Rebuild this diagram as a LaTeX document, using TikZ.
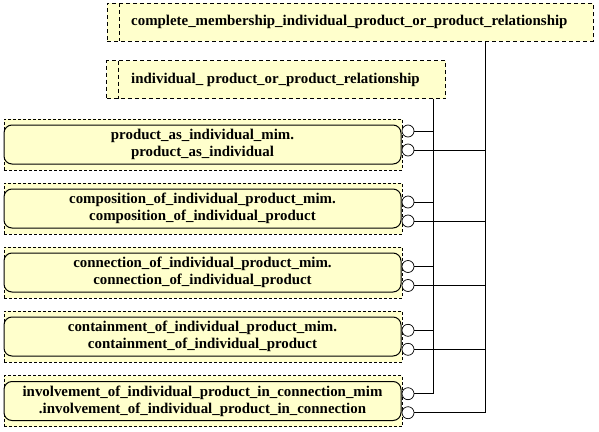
\documentclass[tikz,border=0pt]{standalone}
\usepackage{fontspec}
\setmainfont{Liberation Serif}[BoldFont={Liberation Serif Bold}]
\definecolor{entfill}{HTML}{FFFFCC}
\tikzset{
  reffont/.style={font=\bfseries\fontsize{14.9}{17.3}\selectfont},
  refbox/.style={draw, dash pattern=on 4pt off 3pt, line width=1pt, fill=entfill, minimum width=#1, minimum height=38, inner sep=0, outer sep=0},
  refline/.style={dash pattern=on 4pt off 3pt, line width=1pt},
  grpbox/.style={draw, dash pattern=on 3pt off 2pt, line width=0.7pt, fill=entfill, minimum width=398, minimum height=51, inner sep=0, outer sep=0},
  entbox/.style={draw, rounded corners=8, line width=1pt, fill=entfill, minimum width=397, minimum height=39, align=center, inner sep=0, outer sep=0, reffont},
  port/.style={draw, circle, line width=0.7pt, fill=white, minimum size=12, inner sep=0, outer sep=0},
  link/.style={line width=0.9pt}
}
\begin{document}
\begin{tikzpicture}[x=1pt, y=-1pt]
\useasboundingbox (0,0) rectangle (599,431);

\node [refbox=486] (cmp) at (350,22.3) {};
\draw [refline] ([xshift=12]cmp.north west) -- ([xshift=12]cmp.south west);
\node [reffont, anchor=west, inner sep=0] (cmptext) at (131,22.3) {complete\_membership\_individual\_product\_or\_product\_relationship};

\node [refbox=339] (ipr) at (276.4,79.7) {};
\draw [refline] ([xshift=12]ipr.north west) -- ([xshift=12]ipr.south west);
\node [reffont, anchor=west, inner sep=0] (iprtext) at (131,79.7) {individual\_ product\_or\_product\_relationship};

\node [grpbox] (g1) at (203,144.5) {};
\node [entbox] (e1) at (202.5,144.5) {product\_as\_individual\_mim.\\product\_as\_individual};
\node [port] (p1a) at (408,131) {};
\node [port] (p1b) at (408,150) {};

\node [grpbox] (g2) at (203,208.5) {};
\node [entbox] (e2) at (202.5,208.5) {composition\_of\_individual\_product\_mim.\\composition\_of\_individual\_product};
\node [port] (p2a) at (408,202) {};
\node [port] (p2b) at (408,221) {};

\node [grpbox] (g3) at (203,272.5) {};
\node [entbox] (e3) at (202.5,272.5) {connection\_of\_individual\_product\_mim.\\connection\_of\_individual\_product};
\node [port] (p3a) at (408,266.5) {};
\node [port] (p3b) at (408,285.5) {};

\node [grpbox] (g4) at (203,336.5) {};
\node [entbox] (e4) at (202.5,336.5) {containment\_of\_individual\_product\_mim.\\containment\_of\_individual\_product};
\node [port] (p4a) at (408,330.3) {};
\node [port] (p4b) at (408,349.3) {};

\node [grpbox] (g5) at (203,401) {};
\node [entbox] (e5) at (202.5,401) {involvement\_of\_individual\_product\_in\_connection\_mim\\.involvement\_of\_individual\_product\_in\_connection};
\node [port] (p5a) at (408,393.7) {};
\node [port] (p5b) at (408,412.7) {};

\coordinate (busa) at (433.3,98.7);
\coordinate (busb) at (485.3,41.3);
\draw [link] (busa) |- (p5a.east);
\draw [link] (busb) |- (p5b.east);
\draw [link] (p1a.east) -- (p1a.east -| busa);
\draw [link] (p2a.east) -- (p2a.east -| busa);
\draw [link] (p3a.east) -- (p3a.east -| busa);
\draw [link] (p4a.east) -- (p4a.east -| busa);
\draw [link] (p1b.east) -- (p1b.east -| busb);
\draw [link] (p2b.east) -- (p2b.east -| busb);
\draw [link] (p3b.east) -- (p3b.east -| busb);
\draw [link] (p4b.east) -- (p4b.east -| busb);
\end{tikzpicture}
\end{document}
